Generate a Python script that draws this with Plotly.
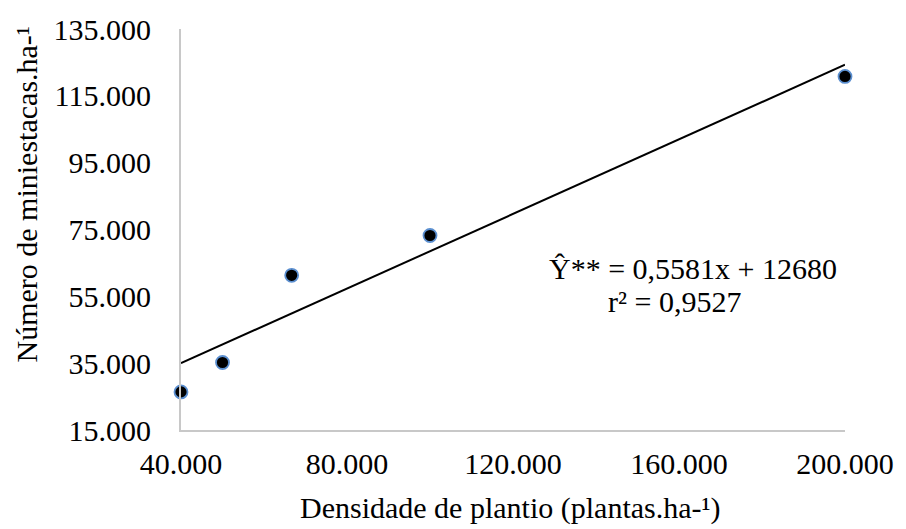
import plotly.graph_objects as go

# Data
densidade = [40000, 50000, 66667, 100000, 200000]
miniestacas = [26400, 35200, 61300, 73200, 120800]
slope = 0.5581
intercept = 12680
trend_x = [40000, 200000]
trend_y = [slope * v + intercept for v in trend_x]
x_ticks = [40000, 80000, 120000, 160000, 200000]
y_ticks = [15000, 35000, 55000, 75000, 95000, 115000, 135000]

FONT = "Liberation Serif"
FS = 30

fig = go.Figure()
fig.add_trace(go.Scatter(
    x=trend_x, y=trend_y, mode="lines",
    line=dict(color="black", width=2), cliponaxis=False, showlegend=False,
))
fig.add_trace(go.Scatter(
    x=densidade, y=miniestacas, mode="markers",
    marker=dict(color="black", size=13, line=dict(color="#5B8FD0", width=1.8)),
    cliponaxis=False, showlegend=False,
))

fig.update_layout(
    width=906, height=529,
    margin=dict(l=181, r=57, t=28, b=99),
    paper_bgcolor="white", plot_bgcolor="white",
    separators=",.",
    font=dict(family=FONT, size=FS, color="black"),
    showlegend=False,
)
fig.update_xaxes(
    range=[40000, 200000], tickvals=x_ticks, tickformat=",d",
    showgrid=False, zeroline=False,
    showline=True, linecolor="#C8C8C8", linewidth=2,
    ticks="", ticklabelstandoff=6,
    tickfont=dict(family=FONT, size=FS, color="black"),
)
fig.update_yaxes(
    range=[15000, 135000], tickvals=y_ticks, tickformat=",d",
    showgrid=False, zeroline=False,
    showline=True, linecolor="#C8C8C8", linewidth=2,
    ticks="", ticklabelstandoff=22,
    tickfont=dict(family=FONT, size=FS, color="black"),
)

fig.add_annotation(
    text="Número de miniestacas.ha-¹", textangle=-90,
    xref="paper", yref="paper", x=-181/668 + 26/668, y=1 - (194 - 28) / 402,
    xanchor="center", yanchor="middle", showarrow=False,
    font=dict(family=FONT, size=FS, color="black"),
)
fig.add_annotation(
    text="Densidade de plantio (plantas.ha-¹)",
    xref="paper", yref="paper", x=(512 - 181) / 668, y=-(508 - 430) / 402,
    xanchor="center", yanchor="middle", showarrow=False,
    font=dict(family=FONT, size=FS, color="black"),
)
fig.add_annotation(
    text="Ŷ** = 0,5581x + 12680",
    xref="paper", yref="paper", x=(696 - 181) / 668, y=(430 - 268) / 402,
    xanchor="center", yanchor="middle", showarrow=False,
    font=dict(family=FONT, size=FS, color="black"),
)
fig.add_annotation(
    text="r² = 0,9527",
    xref="paper", yref="paper", x=(677 - 181) / 668, y=(430 - 301) / 402,
    xanchor="center", yanchor="middle", showarrow=False,
    font=dict(family=FONT, size=FS, color="black"),
)

fig.write_html("out.html")
